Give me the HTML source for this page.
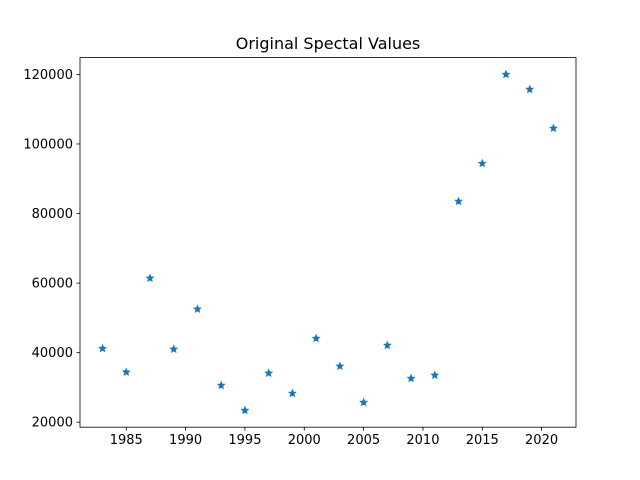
<!DOCTYPE html>
<html><head><meta charset="utf-8"><style>
body{margin:0;background:#fff;}
svg{display:block;font-family:"DejaVu Sans","Liberation Sans",sans-serif;}
</style></head><body>
<svg id="chart" width="640" height="480" viewBox="0 0 640 480">
<rect width="640" height="480" fill="#fff"/>
<text x="328" y="49" text-anchor="middle" font-size="16" fill="#000">Original Spectal Values</text>
<g id="plot"></g>
</svg>
<script>
const years = [1983,1985,1987,1989,1991,1993,1995,1997,1999,2001,2003,2005,2007,2009,2011,2013,2015,2017,2019,2021];
const values = [41200,34400,61400,41000,52500,30600,23400,34100,28300,44100,36100,25700,42100,32600,33500,83500,94400,120000,115700,104500];
const xTicks = [1985,1990,1995,2000,2005,2010,2015,2020];
const yTicks = [20000,40000,60000,80000,100000,120000];

const L=80,R=576,T=57.6,B=427.2;
const xmin0=Math.min(...years),xmax0=Math.max(...years);
const ymin0=Math.min(...values),ymax0=Math.max(...values);
const xm=(xmax0-xmin0)*0.05,ym=(ymax0-ymin0)*0.05;
const xmin=xmin0-xm,xmax=xmax0+xm,ymin=ymin0-ym,ymax=ymax0+ym;
const sx=v=>L+(v-xmin)/(xmax-xmin)*(R-L);
const sy=v=>B-(v-ymin)/(ymax-ymin)*(B-T);
const NS="http://www.w3.org/2000/svg";
const g=document.getElementById('plot');
function mk(tag,attrs){const e=document.createElementNS(NS,tag);for(const k in attrs)e.setAttribute(k,attrs[k]);g.appendChild(e);return e;}

xTicks.forEach(t=>{
  const x=sx(t);
  const ln=mk('line',{x1:x,x2:x,y1:B,y2:B+3.5,stroke:'#000','stroke-width':0.8});
  
  
  const tx=mk('text',{x:x,y:B+17,'text-anchor':'middle','font-size':13,fill:'#000'});
  tx.textContent=t;
  
  
});
yTicks.forEach(t=>{
  const y=sy(t);
  const ln=mk('line',{x1:L-3.5,x2:L,y1:y,y2:y,stroke:'#000','stroke-width':0.8});
  
  
  const tx=mk('text',{x:L-7,y:y+4.5,'text-anchor':'end','font-size':13,fill:'#000'});
  tx.textContent=t;
  
  
});
function star(cx,cy,r){
  let p=[];
  for(let i=0;i<10;i++){const a=-Math.PI/2+i*Math.PI/5;const rr=i%2?r*0.45:r;p.push((cx+rr*Math.cos(a)).toFixed(2)+','+(cy+rr*Math.sin(a)).toFixed(2));}
  return p.join(' ');
}
years.forEach((yr,i)=>{
  const s=mk('polygon',{points:star(sx(yr),sy(values[i]),3.7),fill:'#1f77b4',stroke:'#1f77b4','stroke-width':0.8});
  
  
});
const fr=mk('rect',{x:L,y:T,width:R-L,height:B-T,fill:'none',stroke:'#000','stroke-width':0.8});


</script>
</body></html>
